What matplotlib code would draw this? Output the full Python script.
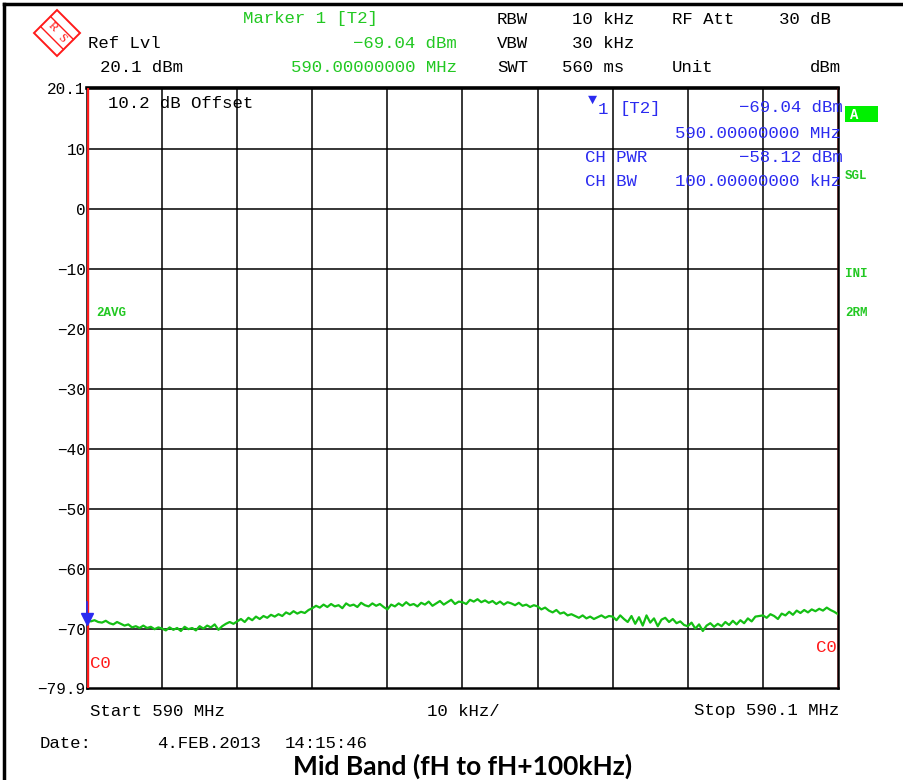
import numpy as np
import matplotlib
matplotlib.use("Agg")
import matplotlib.pyplot as plt
from matplotlib.patches import Polygon, Rectangle
from matplotlib.lines import Line2D

# ---------------- data ----------------
start_mhz = 590.0
stop_mhz = 590.1
ref_level = 20.1
bottom_level = -79.9
y_tick_values = [20.1, 10, 0, -10, -20, -30, -40, -50, -60, -70, -79.9]
y_tick_labels = ["20.1", "10", "0", "\u221210", "\u221220", "\u221230", "\u221240",
                 "\u221250", "\u221260", "\u221270", "\u221279.9"]

# trace level (dBm), 0.5 kHz steps from 590.000 to 590.100 MHz
trace_dbm = [
    -68.4, -68.8, -68.6, -68.9, -69.0, -68.7, -69.1, -69.3, -68.9, -69.2,
    -69.5, -69.3, -69.8, -69.6, -69.9, -69.5, -69.9, -69.7, -70.1, -69.8,
    -70.0, -70.3, -69.8, -70.2, -69.9, -70.4, -69.7, -70.1, -69.9, -70.3,
    -69.6, -70.0, -69.5, -69.8, -69.3, -70.2, -69.6, -69.2, -68.9, -69.2,
    -68.8, -68.4, -68.9, -68.2, -68.6, -68.0, -68.4, -67.9, -68.2, -67.7,
    -68.0, -67.6, -67.9, -67.3, -67.6, -67.1, -67.5, -67.2, -67.4, -66.9,
    -66.6, -66.2, -66.5, -66.0, -66.4, -65.9, -66.3, -66.1, -66.6, -65.8,
    -66.2, -66.0, -66.4, -65.7, -66.1, -66.3, -65.8, -66.2, -65.9, -66.4,
    -66.8, -66.0, -66.3, -65.8, -66.2, -65.6, -66.1, -65.9, -66.3, -65.7,
    -66.0, -65.5, -66.2, -65.8, -65.4, -66.0, -65.6, -65.2, -65.9, -65.5,
    -65.6, -65.9, -65.2, -65.5, -65.1, -65.6, -65.3, -65.7, -65.4, -65.9,
    -65.5, -66.0, -65.6, -65.8, -66.1, -65.7, -66.2, -66.0, -66.4, -66.1,
    -66.3, -66.8, -66.5, -67.0, -67.3, -66.9, -67.5, -67.3, -67.8, -67.6,
    -67.9, -68.2, -67.8, -68.3, -68.0, -68.4, -68.1, -67.8, -68.2, -67.9,
    -68.0, -68.6, -67.8, -68.4, -68.9, -67.9, -69.2, -68.1, -69.5, -67.8,
    -69.0, -68.3, -69.6, -68.5, -68.2, -68.9, -68.4, -69.1, -68.8, -69.4,
    -69.6, -69.0, -70.0, -69.3, -70.4, -69.5, -69.1, -69.7, -69.2, -69.6,
    -68.9, -69.4, -68.7, -69.3, -68.6, -69.1, -68.3, -68.8, -68.0, -67.9,
    -67.8, -68.2, -67.6, -67.9, -68.4, -67.5, -67.8, -67.2, -67.7, -67.0,
    -67.4, -66.9, -67.3, -66.8, -67.1, -66.7, -67.0, -66.5, -66.9, -67.2,
    -67.6,
]
marker_freq_mhz = 590.0
marker_level = -69.04

# ---------------- figure ----------------
W, H = 904, 780
fig = plt.figure(figsize=(W / 100, H / 100), dpi=100)
fig.patch.set_facecolor("white")

def P(x, y):
    return (x / W, 1 - y / H)

L, R, T, B = 87, 838, 88, 688
ax = fig.add_axes([L / W, 1 - B / H, (R - L) / W, (B - T) / H])
freqs = np.linspace(start_mhz, stop_mhz, len(trace_dbm))
ax.set_xlim(start_mhz, stop_mhz)
ax.set_ylim(bottom_level, ref_level)

mono = "Liberation Mono"
GREEN = "#22c822"
BLUE = "#2b2bf0"
RED = "#ff1a1a"

# grid
grid_y = [10, 0, -10, -20, -30, -40, -50, -60, -70]
for gy in grid_y:
    ax.axhline(gy, color="black", lw=1.1, zorder=1)
grid_x = np.linspace(start_mhz, stop_mhz, 11)[1:-1]
for gx in grid_x:
    ax.axvline(gx, color="black", lw=1.1, zorder=1)

ax.plot(freqs, trace_dbm, color="#14bf14", lw=1.6, zorder=3)

ax.set_yticks(y_tick_values)
ax.set_yticklabels(y_tick_labels, fontfamily=mono, fontsize=11.5)
ax.set_xticks([])
ax.tick_params(axis="y", length=0, pad=1)
for s in ax.spines.values():
    s.set_linewidth(1.8)
    s.set_color("black")
ax.spines["top"].set_linewidth(2.6)

# red lines left/right
ax.axvline(start_mhz, color=RED, lw=2.4, zorder=4)
ax.axvline(stop_mhz, color=RED, lw=1.0, zorder=4)

# marker
ax.plot([marker_freq_mhz], [marker_level + 0.6], marker="v", color=BLUE,
        markersize=8, zorder=6, clip_on=False)
ax.plot([marker_freq_mhz, marker_freq_mhz], [marker_level + 1.0, marker_level + 3.5],
        color=BLUE, lw=1.2, zorder=6, clip_on=False)

# ---------------- texts ----------------
fs = 12.5
def t(x, y, s, color="black", ha="left", size=fs, **kw):
    fig.text(*P(x, y), s, color=color, ha=ha, va="center", fontfamily=mono,
             fontsize=size, **kw)

# header
t(243, 19, "Marker 1 [T2]", GREEN)
t(497, 19, "RBW")
t(572, 19, "10 kHz")
t(672, 19, "RF Att")
t(779, 19, "30 dB")
t(88, 44, "Ref Lvl")
t(457, 44, "\u221269.04 dBm", GREEN, ha="right")
t(497, 44, "VBW")
t(572, 44, "30 kHz")
t(100, 68, "20.1 dBm")
t(457, 68, "590.00000000 MHz", GREEN, ha="right")
t(497, 68, "SWT")
t(562, 68, "560 ms")
t(672, 68, "Unit")
t(841, 68, "dBm", ha="right")

# logo (R&S style diamond)
cx, cy = 57, 33
d = 23
fig.patches.append(Polygon([P(cx, cy - d), P(cx + d, cy), P(cx, cy + d), P(cx - d, cy)],
                           closed=True, fill=False, edgecolor=RED, lw=1.4,
                           transform=fig.transFigure))
for off in (-5, 5):
    fig.lines.append(Line2D([P(cx - d / 2 + off, cy - d / 2 - off)[0], P(cx + d / 2 + off, cy + d / 2 - off)[0]],
                            [P(cx - d / 2 + off, cy - d / 2 - off)[1], P(cx + d / 2 + off, cy + d / 2 - off)[1]],
                            color=RED, lw=1.0, transform=fig.transFigure))
fig.text(*P(cx - 4, cy - 6), "R", color=RED, fontsize=9, ha="center", va="center",
         fontfamily="Liberation Serif", rotation=-45)
fig.text(*P(cx + 5, cy + 5), "S", color=RED, fontsize=9, ha="center", va="center",
         fontfamily="Liberation Serif", rotation=-45)

# inside plot
t(588, 100, "\u25bc", BLUE, size=11)
t(598, 109, "1", BLUE)
t(620, 108, "[T2]", BLUE)
t(108, 104, "10.2 dB Offset")
t(843, 108, "\u221269.04 dBm", BLUE, ha="right")
t(841, 133, "590.00000000 MHz", BLUE, ha="right")
t(585, 158, "CH PWR", BLUE)
t(843, 158, "\u221258.12 dBm", BLUE, ha="right")
t(585, 181, "CH BW", BLUE)
t(841, 181, "100.00000000 kHz", BLUE, ha="right")

t(96, 313, "2AVG", GREEN, size=9, fontweight="bold")
fig.patches.append(Rectangle(P(845, 122), 33 / W, 16 / H, facecolor="#00f000",
                             edgecolor="none", transform=fig.transFigure))
t(850, 115, "A", "white", size=10, fontweight="bold")
t(845, 176, "SGL", GREEN, size=9, fontweight="bold")
t(845, 274, "INI", GREEN, size=9, fontweight="bold")
t(845, 313, "2RM", GREEN, size=9, fontweight="bold")

t(90, 664, "C0", RED)
t(837, 648, "C0", RED, ha="right")

# footer
t(90, 711, "Start 590 MHz")
t(463, 711, "10 kHz/", ha="center")
t(839, 711, "Stop 590.1 MHz", ha="right")
t(40, 744, "Date:")
t(157, 744, "4.FEB.2013")
t(285, 744, "14:15:46")
fig.text(*P(463, 766), "Mid Band (fH to fH+100kHz)", ha="center", va="center",
         fontfamily="Lato", fontweight="bold", fontsize=19)

# outer frame (top and left)
fig.lines.append(Line2D([P(4, 4)[0], P(904, 4)[0]], [P(4, 4)[1], P(904, 4)[1]],
                        color="black", lw=2.5, transform=fig.transFigure))
fig.lines.append(Line2D([P(4, 4)[0], P(4, 780)[0]], [P(4, 4)[1], P(4, 780)[1]],
                        color="black", lw=2.5, transform=fig.transFigure))

fig.savefig("out.png", dpi=100, facecolor="white")
